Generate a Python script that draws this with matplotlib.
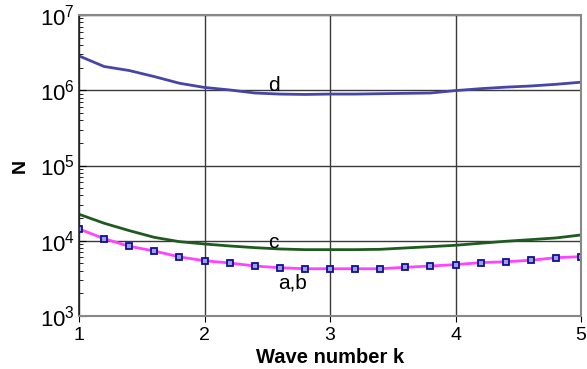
import numpy as np
import matplotlib.pyplot as plt
from matplotlib.ticker import LogLocator, NullFormatter

plt.rcParams['font.family'] = ['Liberation Sans', 'DejaVu Sans']
plt.rcParams['mathtext.fontset'] = 'custom'
plt.rcParams['mathtext.rm'] = 'Liberation Sans'
plt.rcParams['mathtext.it'] = 'Liberation Sans:italic'
plt.rcParams['mathtext.bf'] = 'Liberation Sans:bold'

k = [1.0, 1.2, 1.4, 1.6, 1.8, 2.0, 2.2, 2.4, 2.6, 2.8, 3.0,
     3.2, 3.4, 3.6, 3.8, 4.0, 4.2, 4.4, 4.6, 4.8, 5.0]

# curve d
n_d = [2.86e6, 2.07e6, 1.83e6, 1.52e6, 1.24e6, 1.09e6, 1.01e6, 9.2e5, 8.9e5, 8.8e5, 8.9e5,
       8.9e5, 9.0e5, 9.1e5, 9.2e5, 9.9e5, 1.05e6, 1.10e6, 1.14e6, 1.20e6, 1.28e6]
# curve c
n_c = [22500, 17100, 13650, 11100, 9730, 9060, 8530, 8100, 7780, 7620, 7620,
       7620, 7700, 8020, 8350, 8710, 9270, 9840, 10350, 10900, 11940]
# curves a,b
n_ab = [14350, 10670, 8450, 7310, 6100, 5430, 5070, 4620, 4380, 4250, 4250,
        4250, 4250, 4440, 4620, 4820, 5120, 5270, 5500, 5960, 6150]

fig = plt.figure(figsize=(5.87, 3.69), dpi=100)
ax = fig.add_axes([0.1346, 0.1436, 0.8552, 0.8157])

ax.plot(k, n_d, color='#4646a8', lw=2)
ax.plot(k, n_c, color='#1f5a1f', lw=2)
ax.plot(k, n_ab, color='#ff44ff', lw=2)
ax.plot(k, n_ab, ls='none', marker='s', ms=4.5, mfc='#9aa0e0', mec='#101090', mew=1.3)

ax.set_yscale('log')
ax.set_xlim(1, 5)
ax.set_ylim(1e3, 1e7)
ax.set_xticks([1, 2, 3, 4, 5])
ax.yaxis.set_major_locator(LogLocator(base=10, numticks=10))
ax.yaxis.set_minor_locator(LogLocator(base=10, subs=np.arange(2, 10), numticks=10))
ax.yaxis.set_minor_formatter(NullFormatter())
ax.grid(True, which='major', color='#3a3a3a', lw=1)
ax.tick_params(axis='y', which='both', direction='in', labelsize=16, length=5, pad=3)
ax.tick_params(axis='y', which='minor', length=3)
ax.tick_params(axis='x', which='major', direction='out', labelsize=14, length=4, pad=4)
for s in ax.spines.values():
    s.set_color('#888888')
    s.set_linewidth(1.5)
ax.spines['left'].set_color('#222222')
ax.spines['left'].set_linewidth(1.2)

ax.text(2.55, 1.17e6, 'd', fontsize=15, ha='center', va='center')
ax.text(2.55, 9.6e3, 'c', fontsize=15, ha='center', va='center')
ax.text(2.7, 2.75e3, 'a,b', fontsize=15, ha='center', va='center')

ax.set_xlabel('Wave number k', fontsize=14.5, fontweight='bold', labelpad=3)
ax.set_ylabel('N', fontsize=14, fontweight='bold', labelpad=8)

fig.savefig('out.png', dpi=100)
